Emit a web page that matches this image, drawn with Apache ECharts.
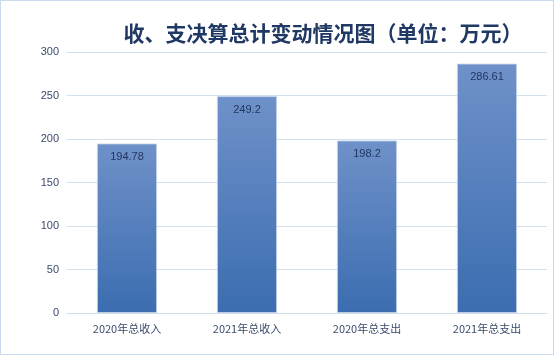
<!DOCTYPE html>
<html><head><meta charset="utf-8">
<script src="https://cdn.jsdelivr.net/npm/echarts@6/dist/echarts.min.js"></script>
<style>html,body{margin:0;padding:0;background:#fff}#c{width:554px;height:355px;box-sizing:border-box;border:1px solid #c9dcef}</style>
</head><body><div id="c"></div>
<script>
const title = '收、支决算总计变动情况图（单位：万元）';
const categories = ['2020年总收入','2021年总收入','2020年总支出','2021年总支出'];
const values = [194.78, 249.2, 198.2, 286.61];
const yTicks = { min: 0, max: 300, interval: 50 };

const chart = echarts.init(document.getElementById('c'), null, {renderer:'canvas'});
chart.setOption({
  animation: false,
  title: {
    text: title, left: 317, top: 17, textAlign: 'center',
    textStyle: { fontFamily: 'Noto Sans CJK SC', fontSize: 21, fontWeight: 'bold', color: '#203864' }
  },
  grid: { left: 66, right: 6, top: 51, bottom: 41, containLabel: false },
  xAxis: {
    type: 'category', data: categories,
    axisLine: { lineStyle: { color: '#d0ddea', width: 1 } },
    axisTick: { show: false },
    axisLabel: { color: '#3a4a6b', fontSize: 11, margin: 10, fontFamily: 'Noto Sans CJK SC' }
  },
  yAxis: {
    type: 'value', min: yTicks.min, max: yTicks.max, interval: yTicks.interval,
    axisLine: { show: false }, axisTick: { show: false },
    axisLabel: { color: '#3a4a6b', fontSize: 11, margin: 8, fontFamily: 'Liberation Sans' },
    splitLine: { lineStyle: { color: '#d3e0ee', width: 1 } }
  },
  series: [{
    type: 'bar', data: values, barWidth: 60,
    itemStyle: {
      color: new echarts.graphic.LinearGradient(0,0,0,1,[
        {offset:0,color:'#6f91c9'},{offset:1,color:'#3b6db0'}]),
      borderColor: '#c8d6ea', borderWidth: 0.8
    },
    label: { show: true, position: 'insideTop', distance: 8, color: '#22375f', fontSize: 11, fontFamily: 'Liberation Sans' }
  }]
});
</script></body></html>
